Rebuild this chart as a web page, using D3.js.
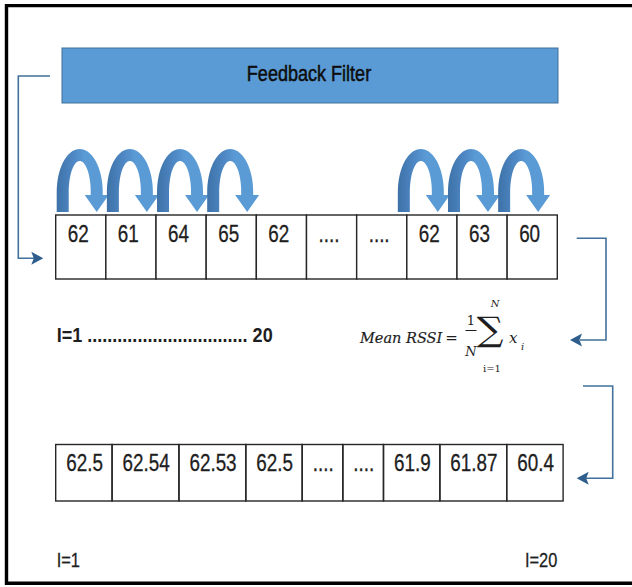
<!DOCTYPE html>
<html>
<head>
<meta charset="utf-8">
<script src="https://cdn.jsdelivr.net/npm/d3@7"></script>
<style>
  html, body { margin: 0; padding: 0; background: #fff; }
  svg { display: block; }
</style>
</head>
<body>
<svg id="chart" width="632" height="587"></svg>
<script>
// ---- data ----
const titleText = "Feedback Filter";
const rawValues = ["62", "61", "64", "65", "62", "....", "....", "62", "63", "60"];
const meanValues = ["62.5", "62.54", "62.53", "62.5", "....", "....", "61.9", "61.87", "60.4"];
const arrowCells = [0, 1, 2, 3, 7, 8, 9];
const rangeLabel = "I=1 ................................ 20";
const startLabel = "I=1";
const endLabel = "I=20";

// ---- setup ----
const svg = d3.select("#chart");
const SANS = "'Liberation Sans', Arial, sans-serif";
const SQ = 0.82; // horizontal squeeze to mimic a narrow face
const SERIF = "'DejaVu Serif', serif";
const LINE = "#41719C";
const HEAD = "#2F5D8C";
const INK = "#1e1e1e";

function ntext(g, x, y, size, str, weight, anchor) {
  return g.append("text")
    .attr("transform", `translate(${x},${y}) scale(${SQ},1)`)
    .attr("font-family", SANS).attr("font-size", size)
    .attr("font-weight", weight || "normal")
    .attr("text-anchor", anchor || "start")
    .attr("fill", INK).attr("stroke", INK).attr("stroke-width", 0.3)
    .text(str);
}

// outer frame (left, top, bottom)
svg.append("path")
  .attr("d", "M650,5.6 H6.5 V583.3 H650")
  .attr("fill", "none").attr("stroke", "#000").attr("stroke-width", 3.4);

// title box
svg.append("rect")
  .attr("x", 62).attr("y", 48).attr("width", 496).attr("height", 55)
  .attr("fill", "#5B9BD5").attr("stroke", LINE).attr("stroke-width", 1);
ntext(svg, 309, 80.5, 22, titleText, "normal", "middle")
  .attr("fill", "#0d0d0d").attr("stroke", "#0d0d0d").attr("stroke-width", 0.5);

// ---- first array ----
const top1 = 215, h1 = 64;
const x1 = d3.scaleBand().domain(d3.range(rawValues.length)).range([55.7, 557.3]).padding(0);
const g1 = svg.append("g");
g1.selectAll("rect").data(rawValues).join("rect")
  .attr("x", (d, i) => x1(i)).attr("y", top1)
  .attr("width", x1.bandwidth()).attr("height", h1)
  .attr("fill", "#fff").attr("stroke", "#262626").attr("stroke-width", 1.4);
rawValues.forEach((d, i) => ntext(g1, x1(i) + 12, top1 + 26.5, 23, d));

// ---- curved feedback arrows ----
const defs = svg.append("defs");
const grad = defs.append("linearGradient").attr("id", "arrowGrad")
  .attr("x1", 0).attr("y1", 0).attr("x2", 1).attr("y2", 0);
grad.append("stop").attr("offset", 0).attr("stop-color", "#3E72A8");
grad.append("stop").attr("offset", 0.3).attr("stop-color", "#4D86C2");
grad.append("stop").attr("offset", 0.55).attr("stop-color", "#5B9BD5");
grad.append("stop").attr("offset", 1).attr("stop-color", "#5B9BD5");

function arrowPath(L) {
  const cy = 192, base = 212;
  const p = d3.path();
  p.moveTo(L, base);
  p.lineTo(L, cy);
  for (let k = 0; k <= 40; k++) {
    const t = Math.PI - Math.PI * k / 40;
    p.lineTo(L + 23 + 23 * Math.cos(t), cy - 43 * Math.sin(t));
  }
  p.lineTo(L + 46, cy + 3);
  p.lineTo(L + 52, cy + 3);
  p.lineTo(L + 40, base);
  p.lineTo(L + 28, cy + 3);
  p.lineTo(L + 34, cy + 3);
  p.lineTo(L + 34, cy);
  for (let k = 0; k <= 40; k++) {
    const t = Math.PI * k / 40;
    p.lineTo(L + 23 + 11 * Math.cos(t), cy - 31 * Math.sin(t));
  }
  p.lineTo(L + 12, base);
  p.closePath();
  return p.toString();
}
svg.append("g").selectAll("path").data(arrowCells).join("path")
  .attr("d", i => arrowPath(x1(i) + (i < 5 ? 1 : -9)))
  .attr("fill", "url(#arrowGrad)");

// range label
svg.append("text")
  .attr("x", 56.7).attr("y", 341.7)
  .attr("font-family", SANS).attr("font-size", 21).attr("font-weight", "bold")
  .attr("fill", INK)
  .attr("textLength", 216).attr("lengthAdjust", "spacingAndGlyphs")
  .text(rangeLabel);

// ---- formula ----
const fg = svg.append("g").attr("fill", INK).attr("font-family", SERIF);
fg.append("text").attr("x", 360).attr("y", 343).attr("font-size", 14.5).attr("font-style", "italic")
  .attr("stroke", INK).attr("stroke-width", 0.2).text("Mean RSSI");
fg.append("text").attr("x", 451.5).attr("y", 343).attr("font-size", 15).attr("text-anchor", "middle").text("=");
fg.append("text").attr("x", 471).attr("y", 325).attr("font-size", 13).attr("text-anchor", "middle").text("1");
fg.append("line").attr("x1", 465.5).attr("x2", 476.5).attr("y1", 330.5).attr("y2", 330.5).attr("stroke", INK).attr("stroke-width", 1);
fg.append("text").attr("x", 471).attr("y", 355.5).attr("font-size", 13).attr("font-style", "italic").attr("text-anchor", "middle").text("N");
fg.append("text").attr("transform", "translate(490,341) scale(1.1,1)").attr("font-size", 34).attr("text-anchor", "middle").text("∑");
fg.append("text").attr("x", 495).attr("y", 307).attr("font-size", 10).attr("font-style", "italic").attr("text-anchor", "middle").text("N");
fg.append("text").attr("x", 492).attr("y", 372).attr("font-size", 10).attr("text-anchor", "middle").text("i=1");
fg.append("text").attr("x", 509).attr("y", 343).attr("font-size", 15).attr("font-style", "italic").text("x");
fg.append("text").attr("x", 521).attr("y", 350).attr("font-size", 10).attr("font-style", "italic").text("i");

// ---- second array (widths fitted to content) ----
const top2 = 444.5, h2 = 56.5;
const g2 = svg.append("g");
const rectLayer = g2.append("g");
const labels2 = meanValues.map(d => ntext(g2, 0, top2 + 26.5, 23, d));
const widths = labels2.map(t => t.node().getComputedTextLength() * SQ + 19.7);
const starts = [55.7];
widths.forEach((w, i) => starts.push(starts[i] + w));
rectLayer.selectAll("rect").data(meanValues).join("rect")
  .attr("x", (d, i) => starts[i]).attr("y", top2)
  .attr("width", (d, i) => widths[i]).attr("height", h2)
  .attr("fill", "none").attr("stroke", "#262626").attr("stroke-width", 1.4);
labels2.forEach((t, i) => t.attr("transform", `translate(${starts[i] + 10.5},${top2 + 26.5}) scale(${SQ},1)`));

// bottom labels
ntext(svg, 56.7, 566.7, 20, startLabel);
ntext(svg, 525, 566.7, 20, endLabel);

// ---- connectors ----
const conn = svg.append("g").attr("fill", "none").attr("stroke", LINE).attr("stroke-width", 1.6);
const heads = svg.append("g").attr("fill", HEAD);
function head(tx, ty, dir) {
  const b = tx - dir * 12;
  heads.append("path").attr("d", `M${tx},${ty} L${b},${ty - 6.5} L${b + dir * 2.5},${ty} L${b},${ty + 6.5} Z`);
}
conn.append("path").attr("d", "M50,76 H18.3 V258.3 H34");
head(43.3, 258.3, 1);
conn.append("path").attr("d", "M576.7,238.3 H606 V340 H580");
head(570, 340, -1);
conn.append("path").attr("d", "M583,386 H612.7 V478.3 H586");
head(576.7, 478.3, -1);
</script>
</body>
</html>
